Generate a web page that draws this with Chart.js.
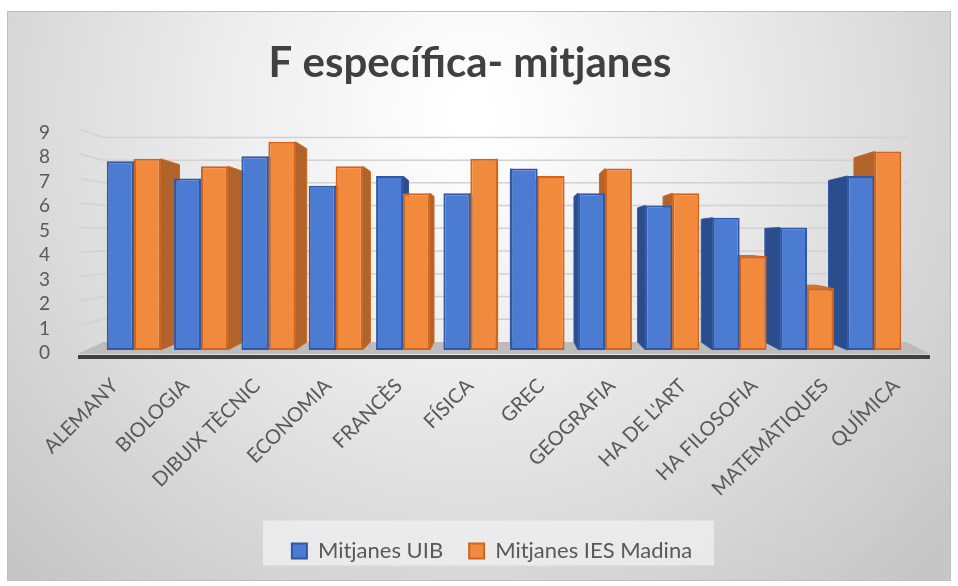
<!DOCTYPE html>
<html>
<head>
<meta charset="utf-8">
<script src="https://cdn.jsdelivr.net/npm/chart.js@4.4.1/dist/chart.umd.min.js"></script>
<style>
  html,body{margin:0;padding:0;background:#ffffff;}
  canvas{display:block;}
</style>
</head>
<body>
<canvas id="c" width="958" height="586"></canvas>
<script>
// ---- data ----
const categories = ["ALEMANY","BIOLOGIA","DIBUIX TÈCNIC","ECONOMIA","FRANCÈS","FÍSICA","GREC","GEOGRAFIA","HA DE L'ART","HA FILOSOFIA","MATEMÀTIQUES","QUÍMICA"];
const mitjanesUIB = [7.7, 7.0, 7.9, 6.7, 7.1, 6.4, 7.4, 6.4, 5.9, 5.4, 5.0, 7.1];
const mitjanesIES = [7.8, 7.5, 8.5, 7.5, 6.4, 7.8, 7.1, 7.4, 6.4, 3.8, 2.5, 8.1];
const seriesNames = ["Mitjanes UIB", "Mitjanes IES Madina"];
const chartTitle = "F específica- mitjanes";
const yMin = 0, yMax = 9, yStep = 1;

// ---- styling ----
const FONT = "Lato, 'Open Sans', sans-serif";
const KX = 0.055, KY = 0.0725;
const sideColors = ["#2c4d8c", "#b0642c"];
const topColors = ["#3a62ad", "#d0752f"];
const LEGEND_SHIFT = 22;

const backdrop = {
  id: 'backdrop',
  afterLayout(chart) {
    const lg = chart.legend;
    if (lg) { lg.left += LEGEND_SHIFT; lg.right += LEGEND_SHIFT; }
  },
  beforeDraw(chart) {
    const {ctx, width, height} = chart;
    ctx.save();
    ctx.fillStyle = '#ffffff';
    ctx.fillRect(0, 0, width, height);
    const g = ctx.createRadialGradient(470, 110, 20, 470, 110, 640);
    g.addColorStop(0, '#ffffff');
    g.addColorStop(0.35, '#eeeeee');
    g.addColorStop(1, '#c6c6c6');
    ctx.fillStyle = g;
    ctx.fillRect(7.5, 11.5, 943, 569);
    ctx.strokeStyle = '#bfbfbf';
    ctx.lineWidth = 1;
    ctx.strokeRect(7.5, 11.5, 943, 569);
    // legend backdrop
    const lg = chart.legend;
    if (lg) {
      const cx = (lg.left + lg.right) / 2 - 4;
      const cy = lg.top + lg.height / 2;
      ctx.fillStyle = 'rgba(240,240,240,0.75)';
      ctx.fillRect(cx - 225, cy - 22.5, 451, 45);
    }
    ctx.restore();

    // perspective spread of category labels (labels are still drawn by the x scale)
    const xs = chart.scales.x;
    if (xs && xs.getLabelItems) {
      const items = xs.getLabelItems(chart.chartArea);
      if (!xs._spread) {
        items.forEach(it => {
          const o = it.options || it;
          if (o.translation) o.translation[0] += (o.translation[0] - 410) * 0.055;
        });
        xs._spread = true;
      }
    }
  }
};

const depth3d = {
  id: 'depth3d',
  beforeDatasetsDraw(chart) {
    const {ctx, chartArea: ca} = chart;
    const ys = chart.scales.y;
    const VX = (ca.left + ca.right) / 2;
    const VY = (ca.top + ca.bottom) / 2;
    const back = (px, py) => [px + (VX - px) * KX, py + (VY - py) * KY];
    ctx.save();
    const fl = ca.left - 20, fr = ca.right + 22;
    // back wall gridlines
    ctx.strokeStyle = '#d2d2d2';
    ctx.lineWidth = 1.5;
    for (let v = yMin + yStep; v <= yMax; v += yStep) {
      const yf = ys.getPixelForValue(v);
      const bl = back(fl, yf), br = back(fr, yf);
      ctx.beginPath();
      ctx.moveTo(fl, yf);
      ctx.lineTo(bl[0], bl[1]);
      ctx.lineTo(br[0], br[1]);
      ctx.stroke();
    }
    // floor
    const yb = ys.getPixelForValue(yMin);
    const bl = back(fl, yb), br = back(fr, yb);
    ctx.fillStyle = '#bcbcbc';
    ctx.beginPath();
    ctx.moveTo(fl - 2, yb + 4);
    ctx.lineTo(fr, yb + 4);
    ctx.lineTo(br[0], br[1]);
    ctx.lineTo(bl[0], bl[1]);
    ctx.closePath();
    ctx.fill();
    ctx.fillStyle = '#404040';
    ctx.fillRect(fl - 2, yb + 5, fr - fl + 2, 4);

    // bar sides and tops
    chart.data.datasets.forEach((ds, di) => {
      const meta = chart.getDatasetMeta(di);
      meta.data.forEach(el => {
        const p = el.getProps(['x', 'y', 'base', 'width'], true);
        const L = p.x - p.width / 2, R = p.x + p.width / 2, T = p.y, B = p.base;
        const ex = p.x < VX ? R : L;
        const dx = (VX - ex) * KX;
        const dyT = (VY - T) * KY, dyB = (VY - B) * KY;
        ctx.fillStyle = sideColors[di];
        ctx.strokeStyle = ds.borderColor;
        ctx.lineWidth = 1;
        ctx.beginPath();
        ctx.moveTo(ex, T);
        ctx.lineTo(ex + dx, T + dyT);
        ctx.lineTo(ex + dx, B + dyB);
        ctx.lineTo(ex, B);
        ctx.closePath();
        ctx.fill();
        ctx.stroke();
        if (dyT < 0) {
          const dxL = (VX - L) * KX, dxR = (VX - R) * KX;
          ctx.fillStyle = topColors[di];
          ctx.beginPath();
          ctx.moveTo(L, T);
          ctx.lineTo(R, T);
          ctx.lineTo(R + dxR, T + dyT);
          ctx.lineTo(L + dxL, T + dyT);
          ctx.closePath();
          ctx.fill();
          ctx.stroke();
        }
      });
    });
    ctx.restore();
  }
};

new Chart(document.getElementById('c'), {
  type: 'bar',
  data: {
    labels: categories,
    datasets: [
      { label: seriesNames[0], data: mitjanesUIB, backgroundColor: '#4c7bd2', borderColor: '#2f58a6', borderWidth: 2, borderSkipped: false },
      { label: seriesNames[1], data: mitjanesIES, backgroundColor: '#f28a3d', borderColor: '#d2651b', borderWidth: 2, borderSkipped: false }
    ]
  },
  options: {
    responsive: false,
    animation: false,
    devicePixelRatio: 1,
    layout: { padding: { left: 32, right: 50, top: 0, bottom: 14 } },
    datasets: { bar: { categoryPercentage: 0.8, barPercentage: 1.0 } },
    plugins: {
      title: {
        display: true,
        text: chartTitle,
        color: '#404040',
        font: { family: FONT, size: 42, weight: 'bold' },
        padding: { top: 38, bottom: 41 }
      },
      legend: {
        position: 'bottom',
        labels: {
          color: '#595959',
          font: { family: FONT, size: 22 },
          boxWidth: 15,
          boxHeight: 15,
          padding: 26
        }
      },
      tooltip: { enabled: false }
    },
    scales: {
      x: {
        grid: { display: false },
        border: { display: false },
        ticks: {
          color: '#595959',
          font: { family: FONT, size: 20 },
          minRotation: 45,
          maxRotation: 45,
          autoSkip: false,
          padding: 16,
          labelOffset: -3
        },
        afterFit(scale) {
          const ch = scale.chart;
          const lh = ch.legend ? ch.legend.height : 70;
          scale.height = ch.height - 350 - lh - 14;
        }
      },
      y: {
        min: yMin,
        max: yMax,
        grid: { display: false },
        border: { display: false },
        ticks: {
          stepSize: yStep,
          autoSkip: false,
          color: '#595959',
          font: { family: FONT, size: 19 },
          padding: 42,
          labelOffset: 3
        },
        afterFit(scale) { scale.width = 68; }
      }
    }
  },
  plugins: [backdrop, depth3d]
});
</script>
</body>
</html>
